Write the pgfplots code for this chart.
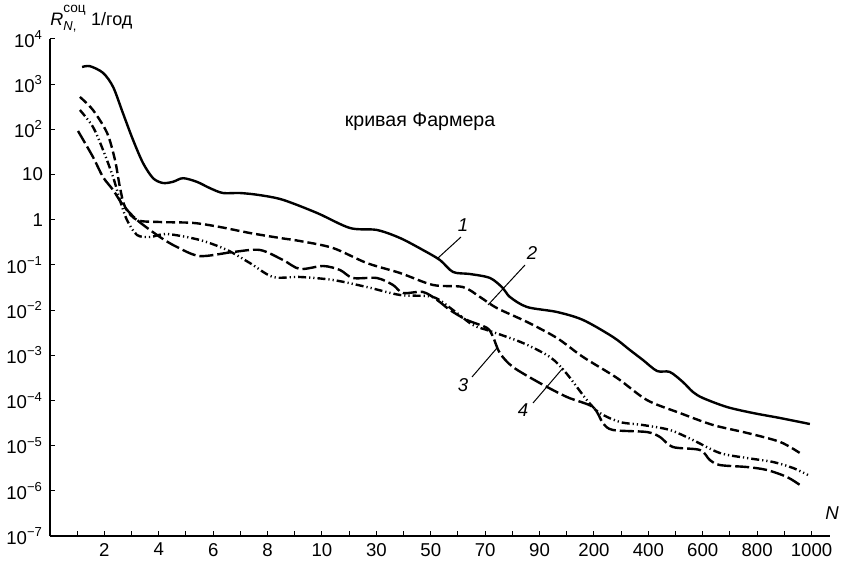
\documentclass[border=0pt]{standalone}
\usepackage{fontspec}
\setmainfont{Liberation Sans}
\usepackage{pgfplots}
\pgfplotsset{compat=1.18}
\begin{document}
\begin{tikzpicture}
\useasboundingbox (-25pt,-12.5pt) rectangle (397.5pt,268pt);
\begin{axis}[
  at={(0,0)}, anchor=south west,
  scale only axis, width=390pt, height=248.5pt,
  xmin=0, xmax=28.68, ymin=1e-7, ymax=1e4, ymode=log,
  axis lines=left, axis line style={-, line width=0.6pt},
  tick align=inside, major tick length=2.5pt,
  tick style={black, line width=0.5pt},
  xtick={1,...,28},
  xticklabels={,2,,4,,6,,8,,10,,30,,50,,70,,90,,200,,400,,600,,800,,1000},
  ytick={1e-7,1e-6,1e-5,1e-4,1e-3,1e-2,1e-1,1,10,100,1000,10000},
  yticklabels={10\textsuperscript{−7},10\textsuperscript{−6},10\textsuperscript{−5},10\textsuperscript{−4},10\textsuperscript{−3},10\textsuperscript{−2},10\textsuperscript{−1},1,10,10\textsuperscript{2},10\textsuperscript{3},10\textsuperscript{4}},
  yminorticks=false, xminorticks=false,
  ticklabel style={font=\fontsize{9.3}{11}\selectfont},
  clip=false,
]
% curve 1 (solid)
\addplot[black, line width=1.2pt, smooth, tension=0.5, solid] coordinates {(1.18,2400)(1.47,2500)(1.95,1780)(2.32,870)(2.68,230)(3.05,59)(3.42,18)(3.79,8.3)(4.15,6.5)(4.52,6.9)(4.89,8.3)(5.40,6.9)(5.88,5.0)(6.36,3.9)(6.99,3.9)(7.72,3.5)(8.57,2.75)(9.82,1.41)(11.03,0.656)(12.02,0.593)(12.87,0.394)(13.71,0.214)(14.34,0.128)(14.82,0.0697)(15.44,0.0629)(16.18,0.0513)(16.65,0.0308)(16.91,0.0195)(17.54,0.0117)(18.64,0.00908)(19.60,0.00604)(20.70,0.00254)(21.32,0.00131)(21.80,7.87e-4)(22.32,4.49e-4)(22.79,4.27e-4)(23.27,2.56e-4)(23.64,1.54e-4)(24.01,1.13e-4)(24.89,7.16e-5)(25.85,5.27e-5)(26.84,4.09e-5)(27.94,3.01e-5)};
% curve 2 (dashed)
\addplot[black, line width=1.2pt, smooth, tension=0.5, dash pattern=on 4.5pt off 2pt] coordinates {(1.10,521)(1.58,268)(2.10,83)(2.39,21)(2.57,5.3)(2.76,1.91)(3.20,0.986)(4.04,0.89)(5.26,0.85)(6.25,0.69)(7.35,0.508)(8.46,0.394)(9.19,0.338)(10.40,0.237)(11.65,0.110)(12.87,0.0662)(14.08,0.0360)(15.18,0.0324)(15.81,0.0195)(16.43,0.0111)(17.54,0.00546)(18.64,0.00241)(19.60,9.16e-4)(20.85,3.14e-4)(21.95,1.02e-4)(23.16,5.27e-5)(24.38,2.86e-5)(25.63,1.91e-5)(26.84,1.21e-5)(27.57,6.87e-6)};
% dash-dot-dot curve
\addplot[black, line width=1.2pt, smooth, tension=0.5, dash pattern=on 4pt off 1.5pt on 0.6pt off 1.5pt on 0.6pt off 1.5pt] coordinates {(1.10,268)(1.58,113)(1.95,35)(2.32,8.8)(2.57,2.73)(2.83,0.986)(3.20,0.459)(3.68,0.415)(4.30,0.483)(5.51,0.356)(6.51,0.214)(7.35,0.110)(8.20,0.0541)(9.19,0.0541)(10.40,0.0464)(11.65,0.0324)(12.87,0.0216)(14.08,0.0195)(14.82,0.01)(15.55,0.00468)(16.18,0.00344)(17.39,0.00187)(18.40,9.0e-4)(19.0,3.9e-4)(19.74,1.02e-4)(20.22,5.27e-5)(20.96,3.33e-5)(21.80,2.86e-5)(22.79,2.22e-5)(23.64,1.33e-5)(24.63,6.87e-6)(25.63,5.32e-6)(26.58,4.35e-6)(27.32,3.20e-6)(27.87,2.24e-6)};
% long-dash curve
\addplot[black, line width=1.2pt, smooth, tension=0.5, dash pattern=on 7pt off 2pt] coordinates {(1.03,92)(1.58,24.5)(1.95,8.8)(2.32,4.55)(2.68,2.12)(3.20,0.986)(4.04,0.415)(4.67,0.249)(5.51,0.157)(6.73,0.193)(7.72,0.214)(8.57,0.128)(9.19,0.0813)(10.04,0.0946)(10.66,0.0773)(11.14,0.0513)(12.02,0.0513)(12.61,0.0360)(12.98,0.0239)(13.71,0.0252)(14.23,0.0168)(14.71,0.01)(15.33,0.00604)(16.07,0.00402)(16.29,0.00254)(16.54,0.00112)(17.02,5.51e-4)(18.01,2.43e-4)(19.01,1.19e-4)(19.96,7.16e-5)(20.33,3.17e-5)(20.70,2.22e-5)(21.95,2.00e-5)(22.43,1.55e-5)(22.90,9.33e-6)(23.90,8.0e-6)(24.26,4.81e-6)(24.63,3.72e-6)(25.63,3.36e-6)(26.36,2.89e-6)(27.10,2.02e-6)(27.57,1.35e-6)};
\end{axis}
% axis labels
\node[anchor=base west, inner sep=0pt, font=\fontsize{9}{10}\selectfont] at (0pt,255pt)
  {\textit{R}\rlap{\raisebox{-2.2pt}{\fontsize{6.5}{7}\selectfont\textit{N},}}\raisebox{6.6pt}{\fontsize{6.8}{7}\selectfont соц}\hspace{0.3em}1/год};
\node[anchor=base, inner sep=0pt, font=\fontsize{9.3}{11}\itshape] at (391pt,8pt) {N};
\node[font=\fontsize{9.8}{11}\selectfont] at (185pt,207pt) {кривая Фармера};
% curve labels with leader lines
\begin{scope}[line width=0.5pt, every node/.style={font=\fontsize{9.3}{11}\itshape}]
\draw (205.5pt,149.5pt) -- (194pt,139pt);
\node at (206.5pt,155.5pt) {1};
\draw (237.5pt,135.5pt) -- (219pt,115.5pt);
\node at (241pt,141.5pt) {2};
\draw (211pt,79.5pt) -- (223.5pt,94pt);
\node at (206.5pt,75.5pt) {3};
\draw (241.5pt,66.5pt) -- (256.5pt,84pt);
\node at (236.5pt,63pt) {4};
\end{scope}
\end{tikzpicture}
\end{document}
